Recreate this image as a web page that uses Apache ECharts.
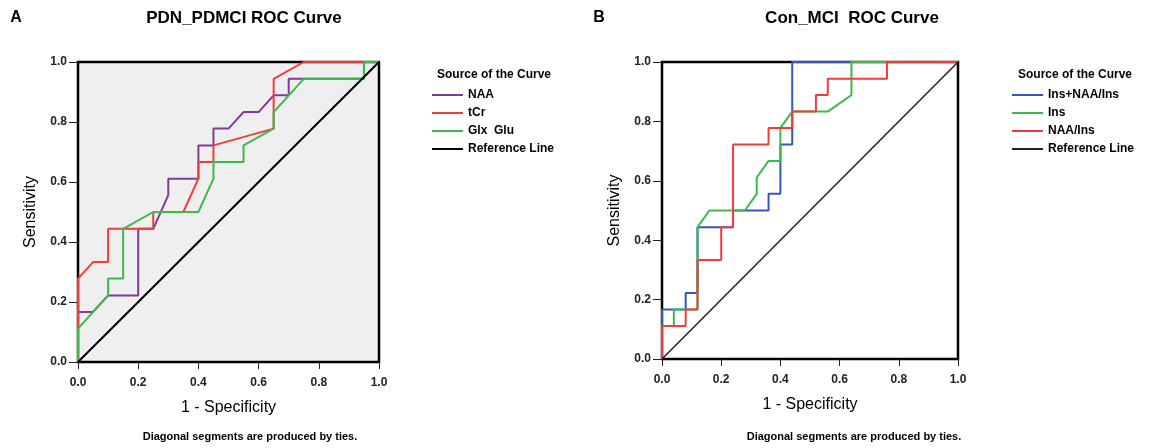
<!DOCTYPE html>
<html>
<head>
<meta charset="UTF-8">
<script src="https://cdn.jsdelivr.net/npm/echarts@6/dist/echarts.min.js"></script>
<style>
  body { margin: 0; background: #fff; }
  #chartmain { width: 1159px; height: 448px; }
</style>
</head>
<body>
<div id="chartmain"></div>
<script type="text/javascript">
// panel A : PDN_PDMCI
var naaX  = [0, 0, 0.05, 0.10, 0.20, 0.20, 0.25, 0.30, 0.30, 0.40, 0.40, 0.45, 0.45, 0.50, 0.55, 0.60, 0.65, 0.70, 0.70, 0.95, 0.95, 1];
var naaY  = [0, 0.167, 0.167, 0.222, 0.222, 0.444, 0.444, 0.556, 0.611, 0.611, 0.722, 0.722, 0.778, 0.778, 0.833, 0.833, 0.889, 0.889, 0.944, 0.944, 1, 1];
var tcrX  = [0, 0, 0.05, 0.10, 0.10, 0.25, 0.25, 0.35, 0.40, 0.40, 0.45, 0.45, 0.65, 0.65, 0.75, 1];
var tcrY  = [0, 0.278, 0.333, 0.333, 0.444, 0.444, 0.5, 0.5, 0.611, 0.667, 0.667, 0.722, 0.778, 0.944, 1, 1];
var glxX  = [0, 0, 0.10, 0.10, 0.15, 0.15, 0.25, 0.40, 0.45, 0.45, 0.55, 0.55, 0.65, 0.65, 0.75, 0.95, 0.95, 1];
var glxY  = [0, 0.111, 0.222, 0.278, 0.278, 0.444, 0.5, 0.5, 0.611, 0.667, 0.667, 0.722, 0.778, 0.833, 0.944, 0.944, 1, 1];
// panel B : Con_MCI
var comboX = [0, 0, 0.08, 0.08, 0.12, 0.12, 0.24, 0.24, 0.36, 0.36, 0.40, 0.40, 0.44, 0.44, 1];
var comboY = [0, 0.167, 0.167, 0.222, 0.222, 0.444, 0.444, 0.5, 0.5, 0.556, 0.556, 0.722, 0.722, 1, 1];
var insX   = [0, 0, 0.04, 0.04, 0.12, 0.12, 0.16, 0.28, 0.32, 0.32, 0.36, 0.40, 0.40, 0.44, 0.56, 0.64, 0.64, 1];
var insY   = [0, 0.111, 0.111, 0.167, 0.167, 0.444, 0.5, 0.5, 0.556, 0.611, 0.667, 0.667, 0.778, 0.833, 0.833, 0.889, 1, 1];
var ratioX = [0, 0, 0.08, 0.08, 0.12, 0.12, 0.20, 0.20, 0.24, 0.24, 0.36, 0.36, 0.44, 0.44, 0.52, 0.52, 0.56, 0.56, 0.76, 0.76, 1];
var ratioY = [0, 0.111, 0.111, 0.167, 0.167, 0.333, 0.333, 0.444, 0.444, 0.722, 0.722, 0.778, 0.778, 0.833, 0.833, 0.889, 0.889, 0.944, 0.944, 1, 1];
var refX = [0, 1];
var refY = [0, 1];

var namesA = ['NAA', 'tCr', 'Glx  Glu', 'Reference Line'];
var namesB = ['Ins+NAA/Ins', 'Ins', 'NAA/Ins', 'Reference Line '];

function pts(xs, ys) {
  var out = [];
  for (var i = 0; i < xs.length; i++) out.push([xs[i], ys[i]]);
  return out;
}

var FONT = '"Liberation Sans", Arial, sans-serif';

function xAx(idx) {
  return {
    type: 'value', gridIndex: idx, min: 0, max: 1, interval: 0.2,
    name: '1 - Specificity', nameLocation: 'middle', nameGap: 38,
    nameTextStyle: { fontFamily: FONT, fontSize: 16, color: '#000' },
    axisLine: { show: true, lineStyle: { color: '#000', width: 2 } },
    axisTick: { show: true, length: 7, lineStyle: { color: '#222', width: 1 } },
    axisLabel: { margin: 15, fontFamily: FONT, fontWeight: 'bold', fontSize: 12, color: '#222',
      formatter: function (v) { return v.toFixed(1); } },
    splitLine: { show: false }
  };
}
function yAx(idx) {
  return {
    type: 'value', gridIndex: idx, min: 0, max: 1, interval: 0.2,
    name: 'Sensitivity', nameLocation: 'middle', nameGap: 39,
    nameTextStyle: { fontFamily: FONT, fontSize: 16, color: '#000' },
    axisLine: { show: true, lineStyle: { color: '#000', width: 2 } },
    axisTick: { show: true, length: 9, lineStyle: { color: '#222', width: 1 } },
    axisLabel: { margin: 11, fontFamily: FONT, fontWeight: 'bold', fontSize: 12, color: '#222',
      formatter: function (v) { return v.toFixed(1); } },
    splitLine: { show: false }
  };
}
function ser(name, idx, xs, ys, color, w) {
  return {
    name: name, type: 'line', xAxisIndex: idx, yAxisIndex: idx,
    data: pts(xs, ys), symbol: 'none', showSymbol: false, clip: false,
    lineStyle: { color: color, width: w || 2 }, itemStyle: { color: color }
  };
}
function legendAt(left, names) {
  return {
    data: names, orient: 'vertical', left: left, top: 84, icon: 'rect',
    itemWidth: 31, itemHeight: 2, itemGap: 6, selectedMode: false,
    textStyle: { fontFamily: FONT, fontWeight: 'bold', fontSize: 12, color: '#000' }
  };
}
function txt(x, y, s, font, align) {
  return { type: 'text', x: x, y: y, style: { text: s, font: font, fill: '#000',
    textAlign: align || 'center', textVerticalAlign: 'middle' } };
}

var option = {
  animation: false,
  grid: [
    { left: 78, top: 62, width: 301, height: 300, show: true, backgroundColor: '#efefef',
      borderColor: '#000', borderWidth: 2.5 },
    { left: 662, top: 62, width: 296, height: 297, show: true, backgroundColor: '#fff',
      borderColor: '#000', borderWidth: 2.5 }
  ],
  xAxis: [xAx(0), xAx(1)],
  yAxis: [yAx(0), yAx(1)],
  legend: [legendAt(427, namesA), legendAt(1007, namesB)],
  series: [
    ser(namesA[0], 0, naaX, naaY, '#7f3b95'),
    ser(namesA[1], 0, tcrX, tcrY, '#f03c3c'),
    ser(namesA[2], 0, glxX, glxY, '#3cb94a'),
    ser(namesA[3], 0, refX, refY, '#000', 2),
    ser(namesB[0], 1, comboX, comboY, '#3556bb'),
    ser(namesB[1], 1, insX, insY, '#3cb94a'),
    ser(namesB[2], 1, ratioX, ratioY, '#f03c3c'),
    ser(namesB[3], 1, refX, refY, '#222', 1.5)
  ],
  graphic: [
    txt(16, 18, 'A', 'bold 16px ' + FONT),
    txt(244, 18, 'PDN_PDMCI ROC Curve', 'bold 17px ' + FONT),
    txt(599, 18, 'B', 'bold 16px ' + FONT),
    txt(852, 18, 'Con_MCI  ROC Curve', 'bold 17px ' + FONT),
    txt(437, 75, 'Source of the Curve', 'bold 12px ' + FONT, 'left'),
    txt(1018, 75, 'Source of the Curve', 'bold 12px ' + FONT, 'left'),
    txt(250, 437, 'Diagonal segments are produced by ties.', 'bold 11px ' + FONT),
    txt(854, 437, 'Diagonal segments are produced by ties.', 'bold 11px ' + FONT)
  ]
};

var myChart = echarts.init(document.getElementById('chartmain'));
myChart.setOption(option);
</script>
</body>
</html>
